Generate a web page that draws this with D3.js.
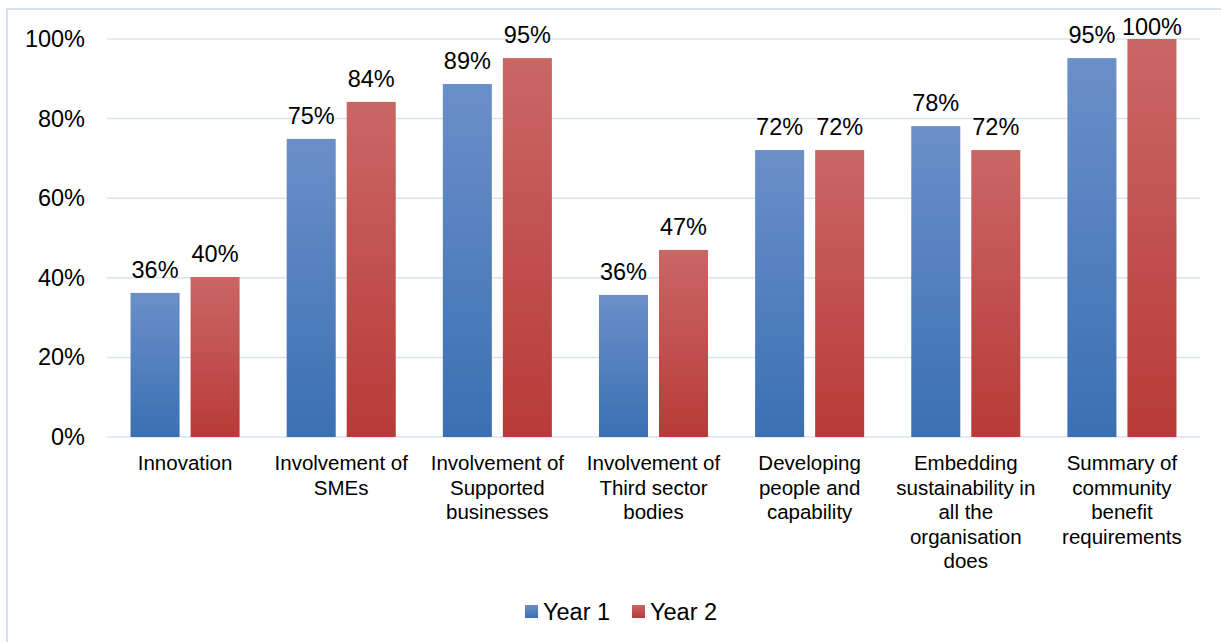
<!DOCTYPE html>
<html>
<head>
<meta charset="utf-8">
<script src="https://cdn.jsdelivr.net/npm/d3@7"></script>
<style>
  html, body { margin: 0; padding: 0; background: #fff; }
  svg { display: block; font-family: "Liberation Sans", Arial, sans-serif; }
</style>
</head>
<body>
<svg id="chart" width="1221" height="642"></svg>
<script>
const categories = [
  ["Innovation"],
  ["Involvement of", "SMEs"],
  ["Involvement of", "Supported", "businesses"],
  ["Involvement of", "Third sector", "bodies"],
  ["Developing", "people and", "capability"],
  ["Embedding", "sustainability in", "all the", "organisation", "does"],
  ["Summary of", "community", "benefit", "requirements"]
];
const year1 = [0.362, 0.749, 0.887, 0.357, 0.721, 0.781, 0.952];
const year2 = [0.402, 0.842, 0.952, 0.470, 0.721, 0.721, 1.000];
const seriesNames = ["Year 1", "Year 2"];
const yTicks = [0, 0.2, 0.4, 0.6, 0.8, 1.0];

const svg = d3.select("#chart");
const margin = { left: 107, right: 21, top: 39, bottom: 205 };
const W = 1221, H = 642;
const plotW = W - margin.left - margin.right;
const plotH = H - margin.top - margin.bottom;

// border
svg.append("rect").attr("x", 7).attr("y", 9).attr("width", 1230).attr("height", 650)
  .attr("fill", "none").attr("stroke", "#d6e2f3").attr("stroke-width", 2);

// gradients
const defs = svg.append("defs");
const grads = [
  { id: "gBlue", top: "#6b8fc8", bot: "#3a70b3" },
  { id: "gRed", top: "#c96765", bot: "#b83a38" }
];
grads.forEach(g => {
  const lg = defs.append("linearGradient").attr("id", g.id)
    .attr("x1", 0).attr("y1", 0).attr("x2", 0).attr("y2", 1);
  lg.append("stop").attr("offset", "0%").attr("stop-color", g.top);
  lg.append("stop").attr("offset", "100%").attr("stop-color", g.bot);
});

const g = svg.append("g").attr("transform", `translate(${margin.left},${margin.top})`);

const x0 = d3.scaleBand().domain(d3.range(categories.length)).range([0, plotW]).padding(0);
const y = d3.scaleLinear().domain([0, 1]).range([plotH, 0]);

// gridlines
g.append("g").selectAll("line").data(yTicks).join("line")
  .attr("x1", 0).attr("x2", plotW)
  .attr("y1", d => y(d)).attr("y2", d => y(d))
  .attr("stroke", "#d9e4f3").attr("stroke-width", 1.5);

// y axis labels
const yAxis = d3.axisLeft(y).tickValues(yTicks).tickFormat(d3.format(".0%")).tickSize(0).tickPadding(22);
const ya = g.append("g").call(yAxis);
ya.select(".domain").remove();
ya.selectAll("text").attr("font-size", 23.5).attr("fill", "#000")
  .attr("font-family", "Liberation Sans, Arial, sans-serif");

// bars
const barW = x0.bandwidth() * 0.314;
const gap = 11;
const series = [year1, year2];
series.forEach((vals, si) => {
  const offset = si === 0 ? -gap / 2 - barW : gap / 2;
  const grp = g.append("g");
  grp.selectAll("rect").data(vals).join("rect")
    .attr("x", (d, i) => x0(i) + x0.bandwidth() / 2 + offset)
    .attr("y", d => y(d))
    .attr("width", barW)
    .attr("height", d => plotH - y(d))
    .attr("fill", si === 0 ? "url(#gBlue)" : "url(#gRed)");
  grp.selectAll("text").data(vals).join("text")
    .attr("x", (d, i) => x0(i) + x0.bandwidth() / 2 + offset + barW / 2)
    .attr("y", d => Math.max(y(d) - 15, -4))
    .attr("text-anchor", "middle")
    .attr("font-size", 23.5)
    .attr("fill", "#000")
    .text(d => d3.format(".0%")(d));
});

// x labels
const xl = g.append("g");
categories.forEach((lines, i) => {
  const t = xl.append("text")
    .attr("x", x0(i) + x0.bandwidth() / 2)
    .attr("y", plotH + 33)
    .attr("text-anchor", "middle")
    .attr("font-size", 20.5)
    .attr("fill", "#000");
  lines.forEach((ln, j) => {
    t.append("tspan").attr("x", x0(i) + x0.bandwidth() / 2)
      .attr("dy", j === 0 ? 0 : 24.5).text(ln);
  });
});

// legend
const legend = svg.append("g");
const legendItems = [
  { name: seriesNames[0], fill: "url(#gBlue)", x: 525 },
  { name: seriesNames[1], fill: "url(#gRed)", x: 632 }
];
legendItems.forEach(it => {
  legend.append("rect").attr("x", it.x).attr("y", 605).attr("width", 13).attr("height", 13).attr("fill", it.fill);
  legend.append("text").attr("x", it.x + 18).attr("y", 620).attr("font-size", 23.5).attr("fill", "#000").text(it.name);
});
</script>
</body>
</html>
